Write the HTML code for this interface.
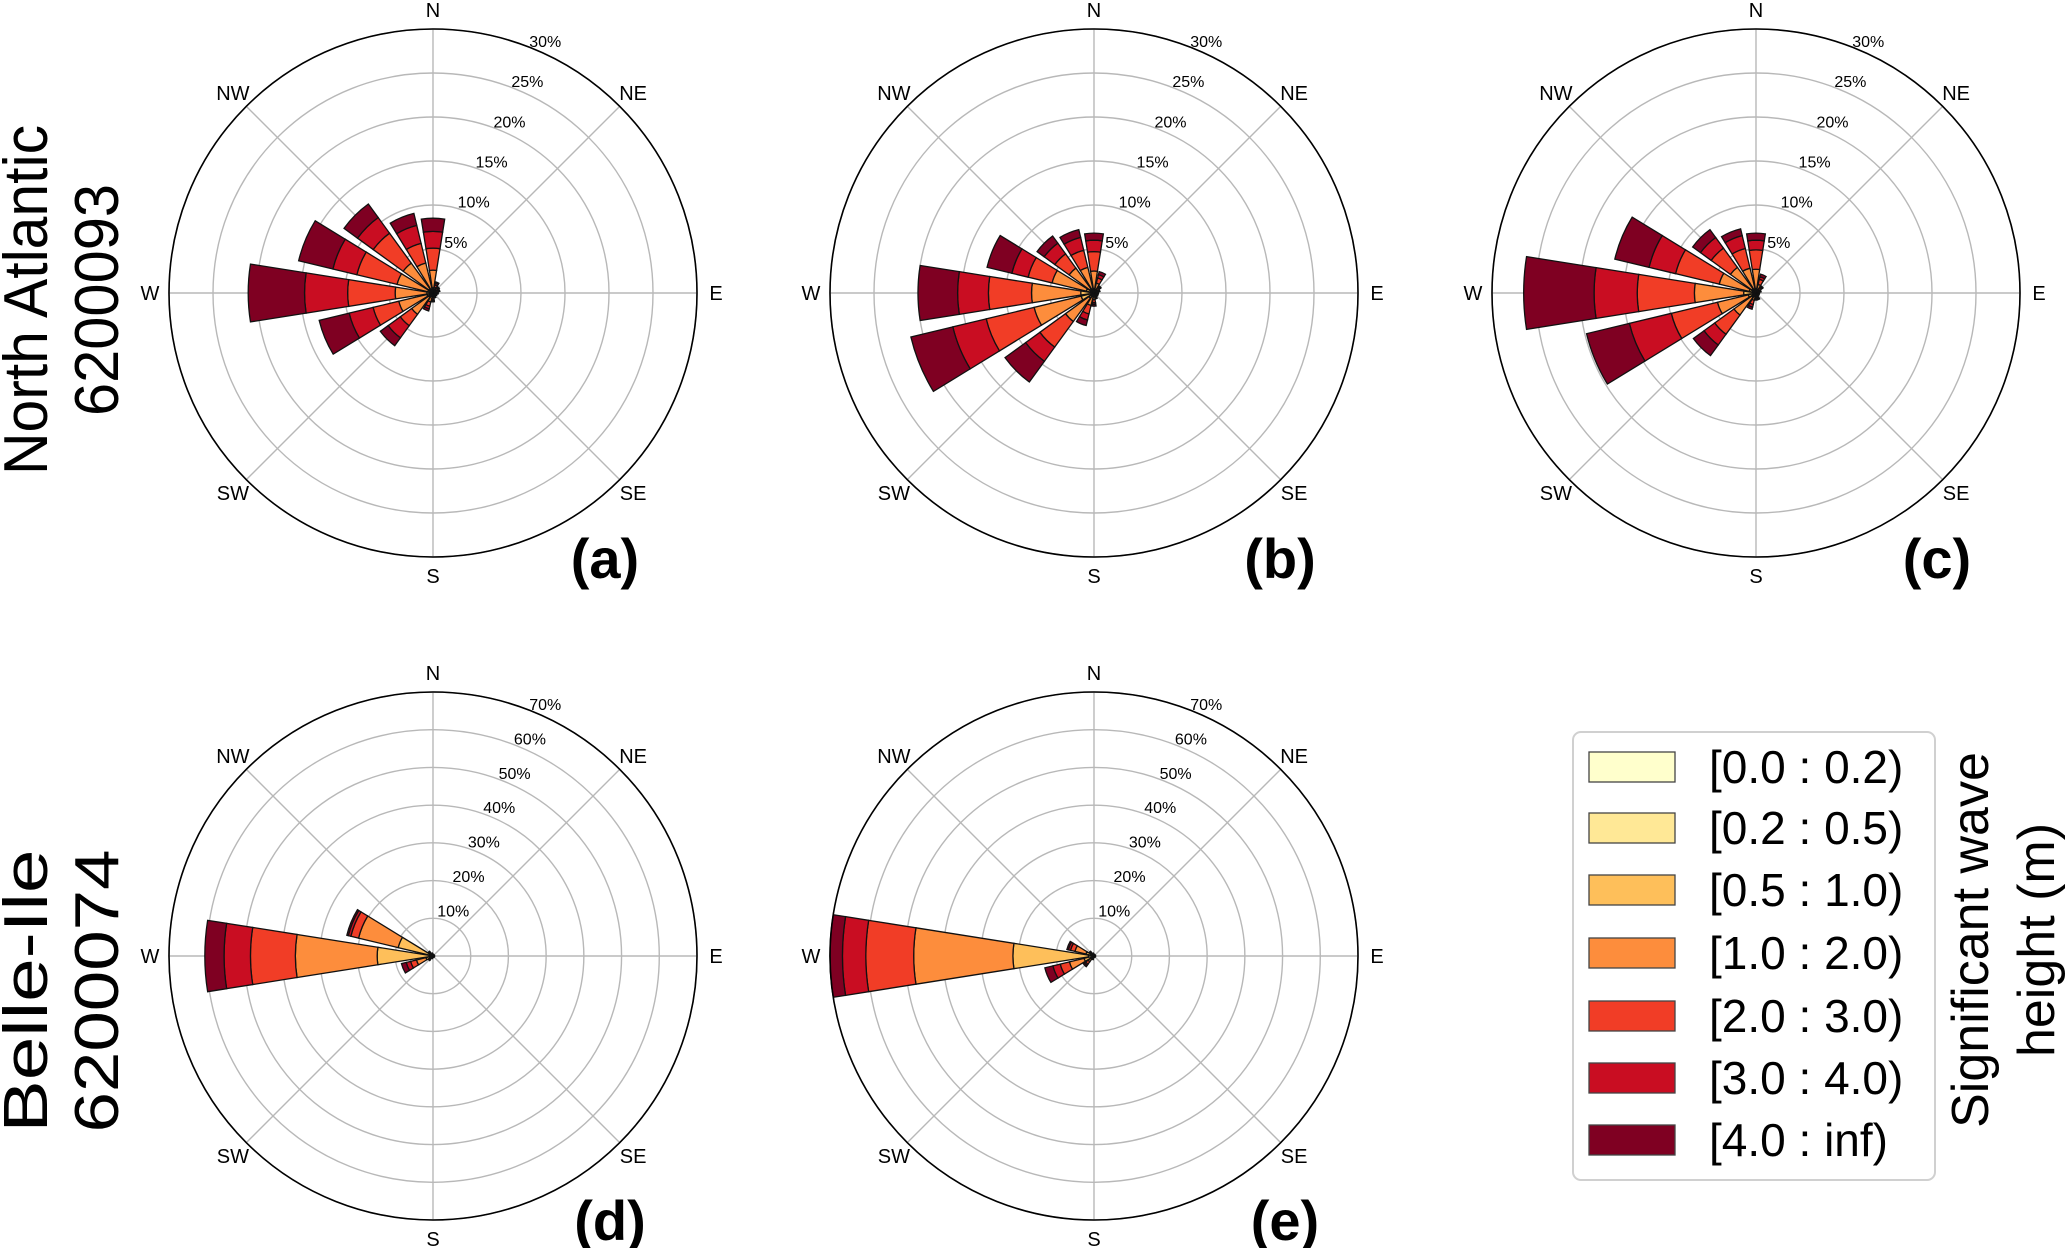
<!DOCTYPE html>
<html><head><meta charset="utf-8"><style>
html,body{margin:0;padding:0;background:#fff;}
svg{display:block;font-family:"Liberation Sans","DejaVu Sans",sans-serif;}
</style></head><body>
<svg id="fig" width="2067" height="1248" viewBox="0 0 2067 1248" xmlns="http://www.w3.org/2000/svg">
<g>
<text transform="translate(47,300) rotate(-90)" text-anchor="middle" font-size="62" textLength="350" lengthAdjust="spacingAndGlyphs">North Atlantic</text>
<text transform="translate(118,300) rotate(-90)" text-anchor="middle" font-size="62" textLength="232" lengthAdjust="spacingAndGlyphs">6200093</text>
</g>
<g>
<text transform="translate(47,991) rotate(-90)" text-anchor="middle" font-size="62" textLength="283" lengthAdjust="spacingAndGlyphs">Belle-Ile</text>
<text transform="translate(118,991) rotate(-90)" text-anchor="middle" font-size="62" textLength="283" lengthAdjust="spacingAndGlyphs">6200074</text>
</g>
<g id="legend">
<rect x="1573" y="732" width="362" height="448" rx="8" fill="#fff" stroke="#d0d0d0" stroke-width="2"/>
</g>
<g>
<text transform="translate(1988,940) rotate(-90)" text-anchor="middle" font-size="52">Significant wave</text>
<text transform="translate(2054,940) rotate(-90)" text-anchor="middle" font-size="52">height (m)</text>
</g>
</svg>
<script>
const dirs = ["N","NNE","NE","ENE","E","ESE","SE","SSE","S","SSW","SW","WSW","W","WNW","NW","NNW"];
const binLabels = ["[0.0 : 0.2)","[0.2 : 0.5)","[0.5 : 1.0)","[1.0 : 2.0)","[2.0 : 3.0)","[3.0 : 4.0)","[4.0 : inf)"];
const binColors = ["#ffffcc","#ffe896","#febf5a","#fd8d3c","#f13d26","#c90d22","#7f0022"];
const ticksTop = [5,10,15,20,25,30];
const ticksBottom = [10,20,30,40,50,60,70];
// per-direction bin values (%) for each panel, order follows dirs
const panelA = [
 [0,0.1,0.5,2.0,2.5,1.9,1.5],[0,0.05,0.2,0.4,0.3,0.2,0.15],[0,0.05,0.15,0.3,0.2,0.1,0.1],[0,0.05,0.1,0.25,0.2,0.1,0.1],
 [0,0.05,0.1,0.2,0.1,0.1,0.05],[0,0.05,0.1,0.15,0.1,0.05,0.05],[0,0.05,0.1,0.1,0.1,0.05,0.05],[0,0.05,0.1,0.2,0.1,0.1,0.05],
 [0,0.05,0.15,0.3,0.2,0.15,0.15],[0,0.05,0.3,0.7,0.5,0.3,0.25],[0,0.1,0.5,2.4,1.6,1.7,1.1],[0,0.1,0.6,3.3,3.0,2.8,3.5],
 [0,0.1,0.6,3.6,5.4,4.9,6.4],[0,0.1,0.5,3.6,4.7,2.8,4.0],[0,0.1,0.5,3.6,4.2,2.2,1.9],[0,0.1,0.4,3.0,2.3,2.1,1.4]];
const panelB = [
 [0,0.1,0.4,2.0,2.2,1.3,0.8],[0,0.05,0.3,0.8,0.6,0.4,0.35],[0,0.05,0.15,0.3,0.25,0.15,0.1],[0,0.05,0.1,0.2,0.15,0.1,0.1],
 [0,0.05,0.1,0.15,0.1,0.05,0.05],[0,0.05,0.1,0.15,0.1,0.05,0.05],[0,0.05,0.1,0.15,0.1,0.05,0.05],[0,0.05,0.1,0.2,0.15,0.1,0.1],
 [0,0.05,0.2,0.5,0.35,0.2,0.2],[0,0.05,0.4,1.0,1.0,0.7,0.65],[0,0.1,0.6,3.3,3.6,2.0,2.9],[0,0.1,1.4,5.5,5.6,3.9,4.9],
 [0,0.1,1.4,5.6,4.9,3.5,4.5],[0,0.1,0.8,4.0,2.8,1.9,2.9],[0,0.1,0.5,2.9,2.0,1.5,1.0],[0,0.1,0.4,2.5,2.0,1.5,0.9]];
const panelC = [
 [0,0.1,0.4,2.2,2.2,1.1,0.8],[0,0.05,0.25,0.7,0.6,0.3,0.3],[0,0.05,0.15,0.3,0.25,0.15,0.1],[0,0.05,0.1,0.2,0.1,0.1,0.05],
 [0,0.05,0.05,0.1,0.1,0.05,0.05],[0,0.05,0.05,0.1,0.1,0.05,0.05],[0,0.05,0.05,0.1,0.1,0.05,0.05],[0,0.05,0.1,0.25,0.2,0.1,0.1],
 [0,0.05,0.1,0.2,0.2,0.15,0.1],[0,0.05,0.2,0.6,0.5,0.3,0.25],[0,0.1,0.5,2.5,2.7,1.5,1.5],[0,0.1,0.8,3.6,5.4,4.9,5.0],
 [0,0.1,1.3,5.6,6.5,4.9,8.0],[0,0.1,0.7,3.5,5.1,3.1,4.0],[0,0.1,0.5,3.0,2.7,1.5,1.1],[0,0.1,0.4,2.4,2.3,1.5,0.8]];
const panelD = [
 [0,0.1,0.2,0.1,0.05,0.03,0.02],[0,0.1,0.1,0.1,0.05,0.03,0.02],[0,0.1,0.1,0.1,0.05,0.03,0.02],[0,0.1,0.1,0.1,0.05,0.03,0.02],
 [0,0.1,0.1,0.1,0.05,0.03,0.02],[0,0.1,0.1,0.1,0.05,0.03,0.02],[0,0.1,0.1,0.1,0.05,0.03,0.02],[0,0.1,0.1,0.1,0.05,0.03,0.02],
 [0,0.1,0.1,0.1,0.05,0.03,0.02],[0,0.1,0.2,0.2,0.1,0.05,0.05],[0,0.1,0.4,0.5,0.3,0.1,0.1],[0,0.3,1.6,2.6,1.6,1.2,1.3],
 [0,1.0,13.8,21.7,11.9,7.0,5.1],[0,0.5,9.0,10.8,2.1,0.7,0.4],[0,0.2,0.6,0.4,0.2,0.1,0.05],[0,0.1,0.3,0.2,0.1,0.05,0.05]];
const panelE = [
 [0,0.1,0.2,0.1,0.05,0.03,0.02],[0,0.1,0.1,0.1,0.05,0.03,0.02],[0,0.1,0.1,0.1,0.05,0.03,0.02],[0,0.1,0.1,0.1,0.05,0.03,0.02],
 [0,0.1,0.1,0.1,0.05,0.03,0.02],[0,0.1,0.1,0.1,0.05,0.03,0.02],[0,0.1,0.1,0.1,0.05,0.03,0.02],[0,0.1,0.1,0.1,0.05,0.03,0.02],
 [0,0.1,0.1,0.1,0.05,0.03,0.02],[0,0.1,0.2,0.3,0.2,0.1,0.1],[0,0.1,0.8,1.0,0.8,0.4,0.4],[0,0.2,2.5,4.0,2.5,2.0,2.2],
 [0,1.5,20.0,26.3,12.7,6.2,3.3],[0,0.2,2.0,3.0,1.2,0.6,0.4],[0,0.2,0.6,0.4,0.2,0.1,0.05],[0,0.1,0.3,0.2,0.1,0.05,0.05]];

const NS = "http://www.w3.org/2000/svg";
const svg = document.getElementById('fig');
function mk(tag, attrs, parent){ const e=document.createElementNS(NS,tag); for(const k in attrs) e.setAttribute(k,attrs[k]); (parent||svg).appendChild(e); return e; }
const R = 264;
const panels = [
 {id:'a', data:panelA, cx:433, cy:293, max:30, ticks:ticksTop, lx:605, ly:578},
 {id:'b', data:panelB, cx:1094, cy:293, max:30, ticks:ticksTop, lx:1280, ly:578},
 {id:'c', data:panelC, cx:1756, cy:293, max:30, ticks:ticksTop, lx:1937, ly:578},
 {id:'d', data:panelD, cx:433, cy:956, max:70, ticks:ticksBottom, lx:610, ly:1240},
 {id:'e', data:panelE, cx:1094, cy:956, max:70, ticks:ticksBottom, lx:1285, ly:1240}
];
function pt(p, r, deg){ const a=deg*Math.PI/180; return [p.cx + r*Math.sin(a), p.cy - r*Math.cos(a)]; }
panels.forEach(p=>{
  const g = mk('g',{});
  
  
  const rs = v => v/p.max*R;
  p.ticks.forEach(t=>{
    const c = mk('circle',{cx:p.cx,cy:p.cy,r:rs(t),fill:'none',stroke:'#b8b8b8','stroke-width':1.4},g);
    
    
  });
  for(let i=0;i<8;i++){
    const e = pt(p,R,i*45);
    const l = mk('line',{x1:p.cx,y1:p.cy,x2:e[0],y2:e[1],stroke:'#b8b8b8','stroke-width':1.4},g);
    
    
  }
  const half = 9;
  p.data.forEach((bins,di)=>{
    const th = di*22.5;
    let r0 = 0;
    bins.forEach((v,bi)=>{
      const r1 = r0 + v;
      if(v>0){
        const a0=rs(r0), a1=rs(r1);
        const p1=pt(p,a0,th-half), p2=pt(p,a1,th-half), p3=pt(p,a1,th+half), p4=pt(p,a0,th+half);
        const d = `M${p1[0]},${p1[1]} L${p2[0]},${p2[1]} A${a1},${a1} 0 0 1 ${p3[0]},${p3[1]} L${p4[0]},${p4[1]} A${a0},${a0} 0 0 0 ${p1[0]},${p1[1]} Z`;
        const s = mk('path',{d:d,fill:binColors[bi],stroke:'#111','stroke-width':1.3,'stroke-linejoin':'miter'},g);
        
        
      }
      r0 = r1;
    });
  });
  const oc = mk('circle',{cx:p.cx,cy:p.cy,r:R,fill:'none',stroke:'#000','stroke-width':1.6},g);
  
  
  ["N","NE","E","SE","S","SW","W","NW"].forEach((lab,i)=>{
    const q = pt(p,283,i*45);
    const t = mk('text',{x:q[0],y:q[1]+7,'text-anchor':'middle','font-size':20},g);
    t.textContent = lab;
    
    
  });
  p.ticks.forEach(tk=>{
    const q = pt(p,rs(tk)+12,24);
    const t = mk('text',{x:q[0],y:q[1]+6,'text-anchor':'middle','font-size':16},g);
    t.textContent = tk+'%';
    
    
  });
  const pl = mk('text',{x:p.lx,y:p.ly,'text-anchor':'middle','font-size':56,'font-weight':'bold'},g);
  pl.textContent = '('+p.id+')';
  
  
});
const lg = document.getElementById('legend');
const rowY = [767,828,890,953,1016,1078,1140];
binLabels.forEach((lab,i)=>{
  const sw = mk('rect',{x:1589,y:rowY[i]-15,width:86,height:30,fill:binColors[i],stroke:'#444','stroke-width':1.3},lg);
  
  
  const t = mk('text',{x:1709,y:rowY[i]+16,'font-size':46},lg);
  t.textContent = lab;
  
  
});
</script>
</body></html>
